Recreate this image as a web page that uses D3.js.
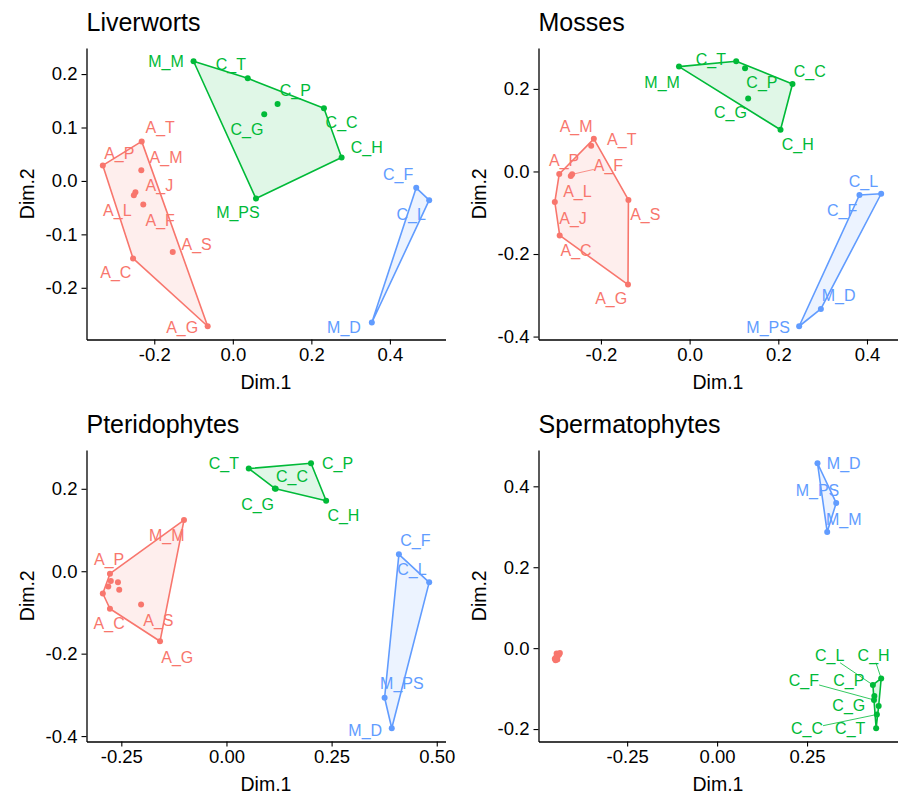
<!DOCTYPE html>
<html><head><meta charset="utf-8">
<script src="https://cdn.jsdelivr.net/npm/d3@7"></script>
<style>
body{margin:0;background:#fff}
text{font-family:"Liberation Sans",Arial,Helvetica,sans-serif}
</style>
</head><body>
<svg id="chart" width="899" height="794"></svg>
<script>
// ---------------- DATA ----------------
// Liverworts
const liverNames   = ["A_P","A_T","A_M","A_J","A_L","A_F","A_S","A_C","A_G","M_M","C_T","C_P","C_G","C_C","C_H","M_PS","C_F","C_L","M_D"];
const liverX       = [-0.331,-0.232,-0.233,-0.248,-0.252,-0.228,-0.153,-0.254,-0.064,-0.100,0.038,0.114,0.080,0.232,0.277,0.059,0.467,0.500,0.354];
const liverY       = [0.029,0.074,0.020,-0.021,-0.027,-0.044,-0.133,-0.145,-0.272,0.224,0.192,0.144,0.125,0.136,0.044,-0.033,-0.013,-0.036,-0.265];
const liverCluster = [1,1,1,1,1,1,1,1,1,2,2,2,2,2,2,2,3,3,3];
const liverLabelX  = [-0.289,-0.185,-0.170,-0.187,-0.294,-0.185,-0.092,-0.298,-0.129,-0.170,-0.005,0.159,0.036,0.277,0.341,0.013,0.421,0.454,0.283];
const liverLabelY  = [0.052,0.100,0.044,-0.008,-0.054,-0.073,-0.118,-0.171,-0.274,0.224,0.219,0.169,0.097,0.110,0.063,-0.058,0.013,-0.062,-0.273];
const liverSegments = [];
const liverXTicks = [-0.2,0.0,0.2,0.4];
const liverXTickLabels = ["-0.2","0.0","0.2","0.4"];
const liverYTicks = [-0.2,-0.1,0.0,0.1,0.2];
const liverYTickLabels = ["-0.2","-0.1","0.0","0.1","0.2"];

// Mosses
const mossNames   = ["A_T","A_M","A_P","A_F","A_L","A_J","A_C","A_S","A_G","M_M","C_T","C_P","C_G","C_C","C_H","C_F","C_L","M_D","M_PS"];
const mossX       = [-0.216,-0.222,-0.294,-0.265,-0.268,-0.304,-0.293,-0.138,-0.139,-0.024,0.105,0.125,0.132,0.232,0.205,0.383,0.432,0.296,0.247];
const mossY       = [0.079,0.062,-0.006,-0.007,-0.011,-0.074,-0.155,-0.069,-0.274,0.254,0.267,0.250,0.177,0.212,0.101,-0.057,-0.054,-0.333,-0.375];
const mossCluster = [1,1,1,1,1,1,1,1,1,2,2,2,2,2,2,3,3,3,3];
const mossLabelX  = [-0.153,-0.256,-0.283,-0.183,-0.253,-0.263,-0.256,-0.100,-0.177,-0.062,0.048,0.163,0.092,0.271,0.244,0.344,0.392,0.336,0.177];
const mossLabelY  = [0.077,0.109,0.027,0.015,-0.047,-0.113,-0.190,-0.104,-0.308,0.217,0.271,0.216,0.143,0.243,0.065,-0.095,-0.023,-0.301,-0.377];
const mossSegments = ["A_F"];
const mossXTicks = [-0.2,0.0,0.2,0.4];
const mossXTickLabels = ["-0.2","0.0","0.2","0.4"];
const mossYTicks = [-0.4,-0.2,0.0,0.2];
const mossYTickLabels = ["-0.4","-0.2","0.0","0.2"];

// Pteridophytes
const pteriNames   = ["M_M","A_P","A_T","A_M","A_J","A_L","A_F","A_C","A_S","A_G","C_T","C_P","C_G","C_C","C_H","C_F","C_L","M_PS","M_D"];
const pteriX       = [-0.101,-0.277,-0.275,-0.281,-0.258,-0.255,-0.294,-0.277,-0.203,-0.158,0.053,0.201,0.117,0.115,0.237,0.410,0.482,0.376,0.393];
const pteriY       = [0.124,-0.006,-0.024,-0.037,-0.027,-0.045,-0.054,-0.091,-0.081,-0.170,0.249,0.262,0.200,0.201,0.171,0.041,-0.027,-0.307,-0.381];
const pteriCluster = [1,1,1,1,1,1,1,1,1,1,2,2,2,2,2,3,3,3,3];
const pteriLabelX  = [-0.142,-0.279,null,null,null,null,null,-0.279,-0.162,-0.117,-0.006,0.264,0.074,0.156,0.278,0.449,0.441,0.417,0.330];
const pteriLabelY  = [0.087,0.028,null,null,null,null,null,-0.127,-0.120,-0.208,0.263,0.263,0.162,0.231,0.136,0.075,0.006,-0.273,-0.386];
const pteriSegments = [];
const pteriXTicks = [-0.25,0.0,0.25,0.5];
const pteriXTickLabels = ["-0.25","0.00","0.25","0.50"];
const pteriYTicks = [-0.4,-0.2,0.0,0.2];
const pteriYTickLabels = ["-0.4","-0.2","0.0","0.2"];

// Spermatophytes
const spermNames   = ["A_P","A_T","A_M","A_J","A_L","A_F","A_S","A_C","A_G","M_D","M_PS","M_M","C_H","C_L","C_P","C_F","C_G","C_C","C_T"];
const spermX       = [-0.446,-0.451,-0.437,-0.449,-0.442,-0.447,-0.444,-0.439,-0.445,0.279,0.331,0.306,0.456,0.433,0.437,0.436,0.449,0.444,0.442];
const spermY       = [-0.013,-0.026,-0.012,-0.030,-0.018,-0.022,-0.028,-0.016,-0.020,0.457,0.359,0.287,-0.075,-0.091,-0.118,-0.128,-0.143,-0.164,-0.198];
const spermCluster = [1,1,1,1,1,1,1,1,1,3,3,3,2,2,2,2,2,2,2];
const spermLabelX  = [null,null,null,null,null,null,null,null,null,0.352,0.279,0.352,0.435,0.313,0.366,0.241,0.366,0.250,0.370];
const spermLabelY  = [null,null,null,null,null,null,null,null,null,0.458,0.390,0.318,-0.017,-0.017,-0.079,-0.079,-0.141,-0.198,-0.198];
const spermSegments = ["C_H","C_L","C_F","C_C"];
const spermXTicks = [-0.25,0.0,0.25];
const spermXTickLabels = ["-0.25","0.00","0.25"];
const spermYTicks = [-0.2,0.0,0.2,0.4];
const spermYTickLabels = ["-0.2","0.0","0.2","0.4"];

const panelTitles = ["Liverworts","Mosses","Pteridophytes","Spermatophytes"];
const clusterColors = ["#F8766D","#00BA38","#619CFF"];

// ---------------- DRAW ----------------
const panels = [
  {title:panelTitles[0], names:liverNames, x:liverX, y:liverY, cl:liverCluster, lx:liverLabelX, ly:liverLabelY, seg:liverSegments, xt:liverXTicks, xtl:liverXTickLabels, yt:liverYTicks, ytl:liverYTickLabels, col:0, row:0},
  {title:panelTitles[1], names:mossNames, x:mossX, y:mossY, cl:mossCluster, lx:mossLabelX, ly:mossLabelY, seg:mossSegments, xt:mossXTicks, xtl:mossXTickLabels, yt:mossYTicks, ytl:mossYTickLabels, col:1, row:0},
  {title:panelTitles[2], names:pteriNames, x:pteriX, y:pteriY, cl:pteriCluster, lx:pteriLabelX, ly:pteriLabelY, seg:pteriSegments, xt:pteriXTicks, xtl:pteriXTickLabels, yt:pteriYTicks, ytl:pteriYTickLabels, col:0, row:1},
  {title:panelTitles[3], names:spermNames, x:spermX, y:spermY, cl:spermCluster, lx:spermLabelX, ly:spermLabelY, seg:spermSegments, xt:spermXTicks, xtl:spermXTickLabels, yt:spermYTicks, ytl:spermYTickLabels, col:1, row:1}
];

const svg = d3.select("#chart");
svg.append("rect").attr("width",899).attr("height",794).attr("fill","#fff");
const colLeft = [86.5, 538.5], rowTop = [48, 450], plotW = 359, plotH = 291.5;

panels.forEach(p => {
  const left = colLeft[p.col], top = rowTop[p.row];
  const xe = d3.extent(p.x), ye = d3.extent(p.y);
  const xpad = (xe[1]-xe[0])*0.05, ypad = (ye[1]-ye[0])*0.05;
  const xs = d3.scaleLinear().domain([xe[0]-xpad, xe[1]+xpad]).range([left, left+plotW]);
  const ys = d3.scaleLinear().domain([ye[0]-ypad, ye[1]+ypad]).range([top+plotH, top]);
  const g = svg.append("g");
  const idx = d3.range(p.names.length);

  // hulls
  [1,2,3].forEach(c => {
    const pts = idx.filter(i => p.cl[i] === c).map(i => [xs(p.x[i]), ys(p.y[i])]);
    const hull = pts.length >= 3 ? d3.polygonHull(pts) : pts;
    g.append("path")
      .attr("d", "M" + hull.join("L") + "Z")
      .attr("fill", clusterColors[c-1]).attr("fill-opacity", 0.12)
      .attr("stroke", clusterColors[c-1]).attr("stroke-width", 1.6)
      .attr("stroke-linejoin", "round");
  });

  // points
  g.selectAll("circle.pt").data(idx).join("circle")
    .attr("cx", i => xs(p.x[i])).attr("cy", i => ys(p.y[i]))
    .attr("r", 3).attr("fill", i => clusterColors[p.cl[i]-1]);

  // labels
  idx.forEach(i => {
    if (p.lx[i] === null) return;
    const t = g.append("text")
      .attr("x", xs(p.lx[i])).attr("y", ys(p.ly[i])).attr("dy", "0.36em")
      .attr("text-anchor", "middle").attr("font-size", 16)
      .attr("fill", clusterColors[p.cl[i]-1]).text(p.names[i]);
    if (p.seg.includes(p.names[i])) {
      const bb = t.node().getBBox();
      const cx = bb.x + bb.width/2, cy = bb.y + bb.height/2;
      const px = xs(p.x[i]), py = ys(p.y[i]);
      const dx = px - cx, dy = py - cy;
      const tt = Math.min(Math.abs((bb.width/2) / (dx || 1e-9)), Math.abs((bb.height/2 - 2) / (dy || 1e-9)));
      g.append("line")
        .attr("x1", cx + dx*tt).attr("y1", cy + dy*tt)
        .attr("x2", px).attr("y2", py)
        .attr("stroke", clusterColors[p.cl[i]-1]).attr("stroke-width", 0.8);
    }
  });

  // axes
  const xAxis = d3.axisBottom(xs).tickValues(p.xt).tickFormat((d,i) => p.xtl[i])
    .tickSizeInner(5).tickSizeOuter(0).tickPadding(4);
  const yAxis = d3.axisLeft(ys).tickValues(p.yt).tickFormat((d,i) => p.ytl[i])
    .tickSizeInner(5).tickSizeOuter(0).tickPadding(4);
  const gx = svg.append("g").attr("transform", `translate(0,${top+plotH})`).call(xAxis);
  const gy = svg.append("g").attr("transform", `translate(${left},0)`).call(yAxis);
  [gx, gy].forEach(a => {
    a.select(".domain").attr("stroke", "#000").attr("stroke-width", 1.3);
    a.selectAll(".tick line").attr("stroke", "#000").attr("stroke-width", 1.1);
    a.selectAll(".tick text").attr("fill", "#000").attr("font-size", 18.5)
      .attr("font-family", '"Liberation Sans",Arial,Helvetica,sans-serif');
  });
  gx.selectAll(".tick text").attr("y", 8).attr("dy", "0.72em");

  // axis titles
  svg.append("text").attr("x", left + plotW/2).attr("y", top + plotH + 49)
    .attr("text-anchor", "middle").attr("font-size", 19.5).attr("fill", "#000").text("Dim.1");
  svg.append("text")
    .attr("transform", `translate(${left - 53},${top + plotH/2}) rotate(-90)`)
    .attr("text-anchor", "middle").attr("font-size", 19.5).attr("fill", "#000").text("Dim.2");

  // panel title
  svg.append("text").attr("x", left).attr("y", top - 17)
    .attr("font-size", 25).attr("fill", "#000").text(p.title);
});
</script>
</body></html>
